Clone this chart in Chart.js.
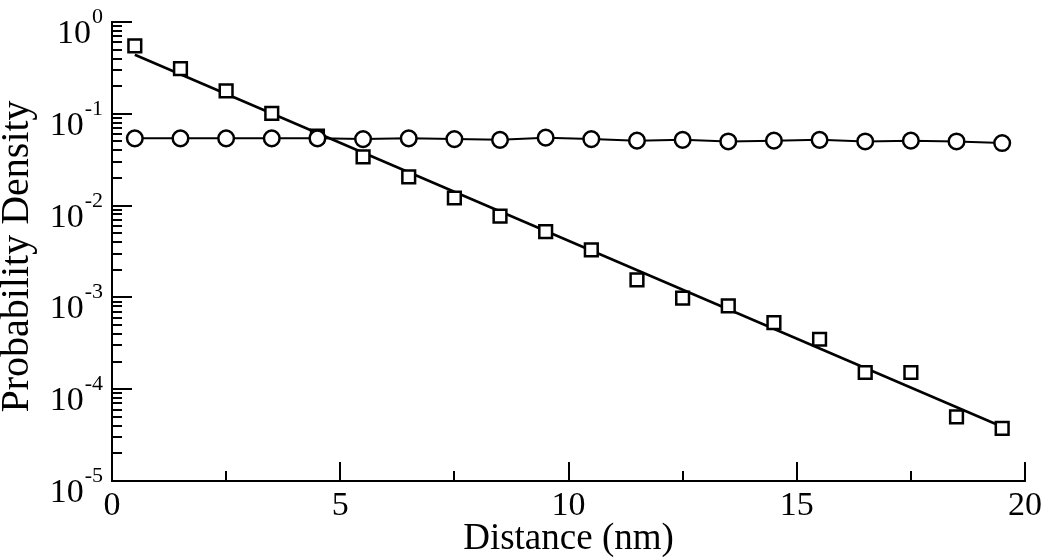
<!DOCTYPE html>
<html>
<head>
<meta charset="utf-8">
<script src="https://cdn.jsdelivr.net/npm/chart.js@4.4.1/dist/chart.umd.min.js"></script>
<style>
  html, body { margin: 0; padding: 0; background: #fff; }
  #wrap { width: 1050px; height: 558px; }
</style>
</head>
<body>
<div id="wrap"><canvas id="c" width="1050" height="558"></canvas></div>
<script>
// ---- data ----
const distance = [0.5, 1.5, 2.5, 3.5, 4.5, 5.5, 6.5, 7.5, 8.5, 9.5, 10.5, 11.5, 12.5, 13.5, 14.5, 15.5, 16.5, 17.5, 18.5, 19.5];
const squareDensity = [0.55, 0.31, 0.178, 0.101, 0.057, 0.034, 0.0205, 0.0121, 0.0077, 0.0052, 0.0033, 0.00155, 0.00098, 0.00081, 0.00053, 0.00035, 0.000152, 0.000152, 0.000050, 0.0000375];
const circleDensity = [0.054, 0.054, 0.054, 0.054, 0.054, 0.053, 0.054, 0.053, 0.052, 0.055, 0.053, 0.051, 0.052, 0.050, 0.051, 0.052, 0.050, 0.051, 0.050, 0.048];
const fitDistance = [0.5, 19.5];
const fitDensity = [0.44, 0.000039];

const xMajorTicks = [0, 5, 10, 15, 20];
const xMinorTicks = [2.5, 7.5, 12.5, 17.5];
const yExponents = [-5, -4, -3, -2, -1, 0];
const yMinorMultipliers = [2, 3, 4, 5, 6, 7, 8, 9];

const xTitle = 'Distance (nm)';
const yTitle = 'Probability Density';
const FONT = 'Liberation Serif';

const toPts = (xs, ys) => xs.map((x, i) => ({x: x, y: ys[i]}));

const axisDecor = {
  id: 'axisDecor',
  afterDraw(chart) {
    const ctx = chart.ctx;
    const xs = chart.scales.x, ys = chart.scales.y;
    const a = chart.chartArea;
    ctx.save();
    ctx.strokeStyle = '#000';
    ctx.lineWidth = 2;
    const seg = (x1, y1, x2, y2) => { ctx.beginPath(); ctx.moveTo(x1, y1); ctx.lineTo(x2, y2); ctx.stroke(); };
    xMajorTicks.forEach(v => { const p = Math.round(xs.getPixelForValue(v)); if (v !== xs.min) seg(p, a.bottom, p, a.bottom - 19); });
    xMinorTicks.forEach(v => { const p = Math.round(xs.getPixelForValue(v)); seg(p, a.bottom, p, a.bottom - 10); });
    yExponents.forEach(e => {
      const major = Math.pow(10, e);
      const p = Math.round(ys.getPixelForValue(major));
      if (e !== -5) seg(a.left, p, a.left + 20, p);
      if (e < 0) {
        yMinorMultipliers.forEach(m => {
          const q = Math.round(ys.getPixelForValue(m * major));
          seg(a.left, q, a.left + 10, q);
        });
      }
    });
    // y tick labels as 10^e
    ctx.fillStyle = '#000';
    ctx.textAlign = 'right';
    ctx.textBaseline = 'alphabetic';
    yExponents.forEach(e => {
      const p = ys.getPixelForValue(Math.pow(10, e));
      const expText = String(e);
      ctx.font = '22px "' + FONT + '"';
      const w = ctx.measureText(expText).width;
      const right = a.left - 9;
      ctx.fillText(expText, right, p + 1);
      ctx.font = '34px "' + FONT + '"';
      ctx.fillText('10', right - w - 1, p + 21);
    });
    // y axis title (rotated), centred where the reference puts it
    ctx.save();
    ctx.translate(17, (a.top + a.bottom) / 2 + 5);
    ctx.rotate(-Math.PI / 2);
    ctx.textAlign = 'center';
    ctx.textBaseline = 'middle';
    ctx.font = '40px "' + FONT + '"';
    ctx.fillText(yTitle, 0, 0);
    ctx.restore();
    ctx.restore();
  }
};

const whiteBg = {
  id: 'whiteBg',
  beforeDraw(chart) {
    const ctx = chart.ctx;
    ctx.save();
    ctx.fillStyle = '#fff';
    ctx.fillRect(0, 0, chart.width, chart.height);
    ctx.restore();
  }
};

new Chart(document.getElementById('c'), {
  type: 'scatter',
  data: {
    datasets: [
      {
        label: 'circles',
        data: toPts(distance, circleDensity),
        showLine: true,
        borderColor: '#000',
        borderWidth: 2,
        pointStyle: 'circle',
        pointRadius: 7.8,
        pointBorderWidth: 2.5,
        pointBackgroundColor: '#fff',
        pointBorderColor: '#000',
        order: 0
      },
      {
        label: 'squares',
        data: toPts(distance, squareDensity),
        showLine: false,
        pointStyle: 'rect',
        pointRadius: 9,
        pointBorderWidth: 2.5,
        pointBackgroundColor: '#fff',
        pointBorderColor: '#000',
        order: 1
      },
      {
        label: 'fit',
        data: toPts(fitDistance, fitDensity),
        showLine: true,
        borderColor: '#000',
        borderWidth: 2.5,
        pointRadius: 0,
        order: 2
      }
    ]
  },
  options: {
    responsive: false,
    devicePixelRatio: 1,
    animation: false,
    events: [],
    layout: { padding: { left: 0, right: 20, top: 22, bottom: 0 } },
    plugins: { legend: { display: false }, tooltip: { enabled: false } },
    scales: {
      x: {
        type: 'linear',
        min: 0, max: 20,
        grid: { display: false, drawTicks: false },
        border: { display: true, color: '#000', width: 2 },
        ticks: {
          stepSize: 5,
          color: '#000',
          padding: 8,
          font: { family: FONT, size: 34, lineHeight: 1 },
          maxRotation: 0
        },
        title: {
          display: true,
          text: xTitle,
          color: '#000',
          padding: 0,
          font: { family: FONT, size: 37, lineHeight: 1 }
        },
        afterFit(scale) { scale.height = 77; }
      },
      y: {
        type: 'logarithmic',
        min: 1e-5, max: 1,
        grid: { display: false, drawTicks: false },
        border: { display: true, color: '#000', width: 2 },
        ticks: { display: false },
        title: { display: false },
        afterFit(scale) { scale.width = 112; }
      }
    }
  },
  plugins: [whiteBg, axisDecor]
});
</script>
</body>
</html>
